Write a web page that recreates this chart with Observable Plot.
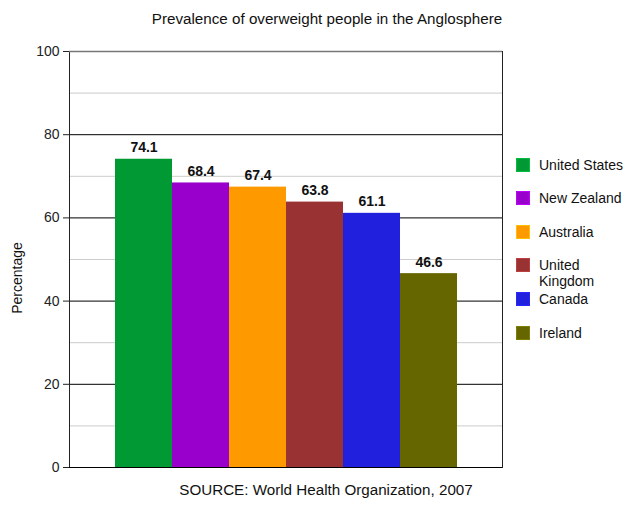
<!DOCTYPE html>
<html>
<head>
<meta charset="utf-8">
<script src="https://cdn.jsdelivr.net/npm/d3@7"></script>
<script src="https://cdn.jsdelivr.net/npm/@observablehq/plot@0.6"></script>
<style>
  body { margin: 0; background: #fff; font-family: "Liberation Sans", Arial, sans-serif; }
  #wrap { position: relative; width: 635px; height: 517px; overflow: hidden; }
  #wrap svg { position: absolute; left: 0; top: 0; }
  .t { position: absolute; font-size: 14px; color: #111; white-space: nowrap; }
  .sw { position: absolute; width: 14px; height: 14px; box-sizing: border-box; }
</style>
</head>
<body>
<div id="wrap"></div>
<script>
const countries = ["United States", "New Zealand", "Australia", "United Kingdom", "Canada", "Ireland"];
const values = [74.1, 68.4, 67.4, 63.8, 61.1, 46.6];
const colors = ["#009933", "#9900cc", "#ff9900", "#993333", "#2020dd", "#666600"];
const majorTicks = [0, 20, 40, 60, 80, 100];
const minorTicks = [10, 30, 50, 70, 90];
const legendLabels = ["United States", "New Zealand", "Australia", "United\nKingdom", "Canada", "Ireland"];

const data = countries.map((c, i) => ({country: c, value: values[i]}));

const chart = Plot.plot({
  width: 635,
  height: 517,
  marginTop: 51,
  marginBottom: 50,
  marginLeft: 69,
  marginRight: 133,
  style: {fontFamily: "Liberation Sans, Arial, sans-serif", fontSize: "14px", background: "transparent"},
  x: {domain: countries, paddingInner: 0, paddingOuter: 0.75, axis: null},
  y: {domain: [0, 100]},
  color: {domain: countries, range: colors},
  marks: [
    Plot.ruleY(minorTicks, {stroke: "#cccccc", strokeWidth: 1}),
    Plot.ruleY(majorTicks.filter(d => d > 0 && d < 100), {stroke: "#000", strokeWidth: 1}),
    Plot.frame({stroke: "#222", strokeWidth: 1}),
    Plot.ruleY([100], {stroke: "#777", strokeWidth: 1.5}),
    Plot.barY(data, {x: "country", y: "value", fill: "country", inset: 0}),
    Plot.ruleY([0], {stroke: "#000", strokeWidth: 1.2}),
    Plot.text(data, {x: "country", y: "value", text: d => d.value.toFixed(1), lineAnchor: "bottom", dy: -7, fontWeight: "bold", fontSize: 14, fill: "#111"}),
    Plot.axisY({ticks: majorTicks, tickSize: 6, tickPadding: 4, fontSize: 14, label: null, stroke: "#222", fill: "#222"})
  ]
});

const wrap = document.getElementById("wrap");
wrap.appendChild(chart);

function addText(txt, left, top, extra) {
  const d = document.createElement("div");
  d.className = "t";
  d.textContent = txt;
  d.style.left = left + "px";
  d.style.top = top + "px";
  Object.assign(d.style, extra || {});
  wrap.appendChild(d);
  return d;
}

// title and caption
addText("Prevalence of overweight people in the Anglosphere", 0, 10, {width: "654px", textAlign: "center", fontSize: "15.2px"});
addText("SOURCE: World Health Organization, 2007", 0, 481, {width: "652px", textAlign: "center", fontSize: "15.2px"});
// y label
addText("Percentage", 17, 278, {transform: "translate(-50%, -50%) rotate(-90deg)"});

// legend
const rowY = [165, 198, 232, 265, 299, 333];
legendLabels.forEach((lab, i) => {
  const sw = document.createElement("div");
  sw.className = "sw";
  sw.style.left = "516px";
  sw.style.top = (rowY[i] - 7) + "px";
  sw.style.background = colors[i];
  sw.style.border = "1px solid " + d3.color(colors[i]).brighter(0.6);
  wrap.appendChild(sw);
  const lines = lab.split("\n");
  lines.forEach((ln, j) => {
    addText(ln, 539, rowY[i] - 8 + j * 16);
  });
});
</script>
</body>
</html>
